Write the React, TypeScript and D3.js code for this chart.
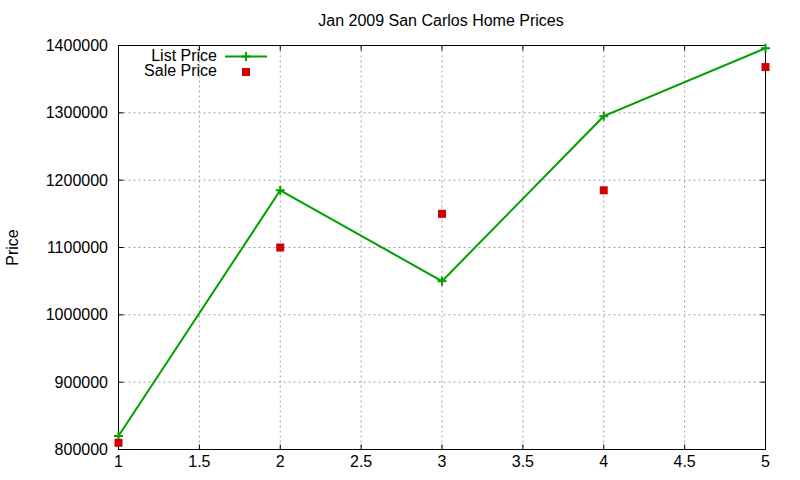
import React from "react";
import * as d3 from "d3";

const xValues = [1, 2, 3, 4, 5];
const listPrice = [820000, 1185000, 1050000, 1295000, 1396000];
const salePrice = [810000, 1100000, 1150000, 1185000, 1368000];
const xTicks = [1, 1.5, 2, 2.5, 3, 3.5, 4, 4.5, 5];
const yTicks = [800000, 900000, 1000000, 1100000, 1200000, 1300000, 1400000];

const W = 800;
const H = 480;
const M = { left: 118.5, right: 765.5, top: 45.5, bottom: 449.5 };
const FONT = "'Liberation Sans', Arial, sans-serif";
const GREEN = "#00a000";
const RED = "#d00000";
const TICK = 5;

export default function App() {
  const x = d3.scaleLinear().domain([1, 5]).range([M.left, M.right]);
  const y = d3.scaleLinear().domain([800000, 1400000]).range([M.bottom, M.top]);
  const line = d3
    .line<number>()
    .x((_, i) => x(xValues[i]))
    .y((d) => y(d));

  const plus = (cx: number, cy: number, key: string) => (
    <g key={key} stroke={GREEN} strokeWidth={2}>
      <line x1={cx - 4.5} x2={cx + 4.5} y1={cy} y2={cy} />
      <line x1={cx} x2={cx} y1={cy - 4.5} y2={cy + 4.5} />
    </g>
  );

  return (
    <svg
      width={W}
      height={H}
      style={{ position: "absolute", left: 0, top: 0, background: "#fff" }}
      fontFamily={FONT}
    >
      <rect width={W} height={H} fill="#fff" />
      {/* grid */}
      <g stroke="#a0a0a0" strokeWidth={1} strokeDasharray="2,3">
        {xTicks.slice(1, -1).map((t) => (
          <line key={"gx" + t} x1={x(t)} x2={x(t)} y1={M.top} y2={M.bottom} />
        ))}
        {yTicks.slice(1, -1).map((t) => (
          <line key={"gy" + t} x1={M.left} x2={M.right} y1={y(t)} y2={y(t)} />
        ))}
      </g>
      {/* ticks */}
      <g stroke="#000" strokeWidth={1}>
        {yTicks.map((t) => (
          <g key={"ty" + t}>
            <line x1={M.left} x2={M.left + TICK} y1={y(t)} y2={y(t)} />
            <line x1={M.right} x2={M.right - TICK} y1={y(t)} y2={y(t)} />
          </g>
        ))}
        {xTicks.map((t) => (
          <g key={"tx" + t}>
            <line x1={x(t)} x2={x(t)} y1={M.bottom} y2={M.bottom - TICK} />
            <line x1={x(t)} x2={x(t)} y1={M.top} y2={M.top + TICK} />
          </g>
        ))}
      </g>
      {/* tick labels */}
      <g fontSize={16} fill="#000">
        {yTicks.map((t) => (
          <text key={"ly" + t} x={108} y={y(t)} dy="0.35em" textAnchor="end">
            {t}
          </text>
        ))}
        {xTicks.map((t) => (
          <text key={"lx" + t} x={x(t)} y={467} textAnchor="middle">
            {t}
          </text>
        ))}
      </g>
      {/* border */}
      <rect
        x={M.left}
        y={M.top}
        width={M.right - M.left}
        height={M.bottom - M.top}
        fill="none"
        stroke="#000"
        strokeWidth={1}
      />
      {/* title & y label */}
      <text x={441} y={26} fontSize={16} textAnchor="middle" fill="#000">
        Jan 2009 San Carlos Home Prices
      </text>
      <text
        transform={`translate(18,${(M.top + M.bottom) / 2}) rotate(-90)`}
        fontSize={16}
        textAnchor="middle"
        fill="#000"
      >
        Price
      </text>
      {/* data */}
      <path d={line(listPrice) || ""} fill="none" stroke={GREEN} strokeWidth={2} />
      {listPrice.map((v, i) => plus(x(xValues[i]), y(v), "p" + i))}
      {salePrice.map((v, i) => (
        <rect
          key={"s" + i}
          x={x(xValues[i]) - 4}
          y={y(v) - 4}
          width={8}
          height={8}
          fill={RED}
        />
      ))}
      {/* legend */}
      <text x={217} y={60.5} fontSize={16} textAnchor="end" fill="#000">
        List Price
      </text>
      <line x1={225} x2={267} y1={56.5} y2={56.5} stroke={GREEN} strokeWidth={2} />
      {plus(246, 56.5, "legp")}
      <text x={217} y={76} fontSize={16} textAnchor="end" fill="#000">
        Sale Price
      </text>
      <rect x={242} y={68} width={8} height={8} fill={RED} />
    </svg>
  );
}
